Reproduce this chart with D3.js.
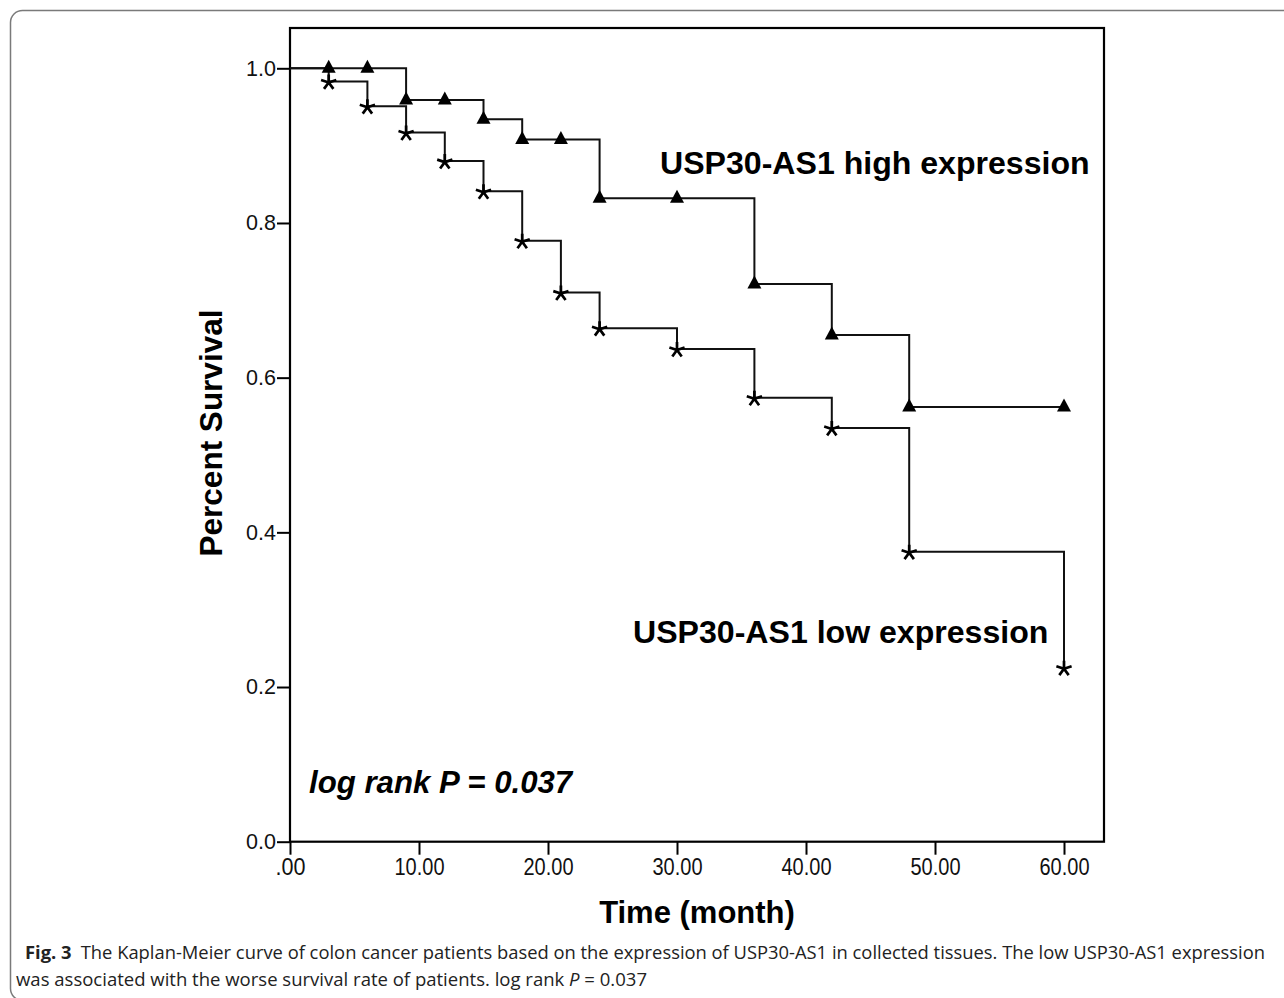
<!DOCTYPE html>
<html>
<head>
<meta charset="utf-8">
<script src="https://cdn.jsdelivr.net/npm/d3@7/dist/d3.min.js"></script>
<style>
  html, body { margin: 0; padding: 0; background: #fff; }
  svg { display: block; }
</style>
</head>
<body>
<svg id="chart" width="1284" height="998"></svg>
<script>
// ---- data ----
const times = [0, 3, 6, 9, 12, 15, 18, 21, 24, 30, 36, 42, 48, 60];
const highSurvival = [1.0, 1.0, 1.0, 0.959, 0.959, 0.934, 0.908, 0.908, 0.832, 0.832, 0.721, 0.655, 0.562, 0.562];
const lowSurvival  = [1.0, 0.983, 0.951, 0.917, 0.880, 0.841, 0.777, 0.710, 0.664, 0.637, 0.574, 0.535, 0.375, 0.225];
const xTickValues = [0, 10, 20, 30, 40, 50, 60];
const xTickLabels = [".00", "10.00", "20.00", "30.00", "40.00", "50.00", "60.00"];
const yTickValues = [0, 0.2, 0.4, 0.6, 0.8, 1.0];
const yTickLabels = ["0.0", "0.2", "0.4", "0.6", "0.8", "1.0"];
const highLabel = "USP30-AS1 high expression";
const lowLabel = "USP30-AS1 low expression";
const pLabel = "log rank P = 0.037";
const xTitle = "Time (month)";
const yTitle = "Percent Survival";

const svg = d3.select("#chart");

// outer rounded border of the figure
svg.append("rect")
  .attr("x", 10.5).attr("y", 10.5)
  .attr("width", 1300).attr("height", 990)
  .attr("rx", 12).attr("ry", 12)
  .attr("fill", "none").attr("stroke", "#7a7a7a").attr("stroke-width", 1.5);

const x = d3.scaleLinear().domain([0, 60]).range([290, 1064]);
const y = d3.scaleLinear().domain([0, 1]).range([841.7, 68.3]);
const frame = { left: 290, right: 1104, top: 28, bottom: 841.7 };

// frame
svg.append("rect")
  .attr("x", frame.left).attr("y", frame.top)
  .attr("width", frame.right - frame.left).attr("height", frame.bottom - frame.top)
  .attr("fill", "none").attr("stroke", "#000").attr("stroke-width", 2.2);

// axes
const yAxis = d3.axisLeft(y)
  .tickValues(yTickValues)
  .tickFormat((d, i) => yTickLabels[i])
  .tickSize(13).tickSizeOuter(0).tickPadding(1);
const gy = svg.append("g").attr("transform", `translate(${frame.left},0)`).call(yAxis);
gy.select(".domain").remove();
gy.selectAll(".tick line").attr("stroke", "#000").attr("stroke-width", 2);
gy.selectAll(".tick text")
  .attr("font-family", "Liberation Sans, Arial, sans-serif")
  .attr("font-size", 21.5).attr("fill", "#111");

const xAxis = d3.axisBottom(x)
  .tickValues(xTickValues)
  .tickFormat((d, i) => xTickLabels[i])
  .tickSize(13).tickSizeOuter(0).tickPadding(4);
const gx = svg.append("g").attr("transform", `translate(0,${frame.bottom})`).call(xAxis);
gx.select(".domain").remove();
gx.selectAll(".tick line").attr("stroke", "#000").attr("stroke-width", 2);
gx.selectAll(".tick text")
  .attr("font-family", "Liberation Sans Narrow, Liberation Sans, Arial, sans-serif")
  .attr("font-size", 23).attr("fill", "#111")
  .attr("textLength", (d, i) => xTickLabels[i].length * 10)
  .attr("lengthAdjust", "spacingAndGlyphs");

// curves
const highData = times.map((t, i) => ({ t, s: highSurvival[i] }));
const lowData = times.map((t, i) => ({ t, s: lowSurvival[i] }));
const line = d3.line().x(d => x(d.t)).y(d => y(d.s)).curve(d3.curveStepAfter);

svg.append("path").datum(highData).attr("d", line)
  .attr("fill", "none").attr("stroke", "#111").attr("stroke-width", 2);
svg.append("path").datum(lowData).attr("d", line)
  .attr("fill", "none").attr("stroke", "#111").attr("stroke-width", 2);

// triangle markers
svg.append("g").selectAll("path").data(highData.filter(d => d.t > 0)).join("path")
  .attr("transform", d => `translate(${x(d.t)},${y(d.s)})`)
  .attr("d", "M0,-8.5 L7,4.5 L-7,4.5 Z")
  .attr("fill", "#000");

// asterisk markers
const r = 8;
const ang = [0, 72, 144, 216, 288].map(a => (a - 90) * Math.PI / 180);
const starPath = ang.map(a => `M0,0 L${(r * Math.cos(a)).toFixed(2)},${(r * Math.sin(a)).toFixed(2)}`).join(" ");
svg.append("g").selectAll("path").data(lowData.filter(d => d.t > 0)).join("path")
  .attr("transform", d => `translate(${x(d.t)},${y(d.s) + 1})`)
  .attr("d", starPath)
  .attr("fill", "none").attr("stroke", "#000").attr("stroke-width", 2.7);

// annotations
const boldFont = "Liberation Sans, Arial, sans-serif";
svg.append("text").attr("x", 660).attr("y", 174)
  .attr("font-family", boldFont).attr("font-weight", "bold").attr("font-size", 32.1)
  .attr("fill", "#000").text(highLabel);
svg.append("text").attr("x", 633).attr("y", 643)
  .attr("font-family", boldFont).attr("font-weight", "bold").attr("font-size", 32.1)
  .attr("fill", "#000").text(lowLabel);
svg.append("text").attr("x", 309).attr("y", 793)
  .attr("font-family", boldFont).attr("font-weight", "bold").attr("font-style", "italic")
  .attr("font-size", 31.2).attr("fill", "#000").text(pLabel);

// axis titles
svg.append("text").attr("x", 697).attr("y", 923).attr("text-anchor", "middle")
  .attr("font-family", boldFont).attr("font-weight", "bold").attr("font-size", 31)
  .attr("fill", "#000").text(xTitle);
svg.append("text")
  .attr("transform", "translate(222,433) rotate(-90)")
  .attr("text-anchor", "middle")
  .attr("font-family", boldFont).attr("font-weight", "bold").attr("font-size", 31.5)
  .attr("fill", "#000").text(yTitle);

// caption
const capFont = "Open Sans, Noto Sans, sans-serif";
const cap1 = svg.append("text").attr("x", 25).attr("y", 959)
  .attr("font-family", capFont).attr("font-size", 17.5).attr("fill", "#222")
  .attr("textLength", 1240).attr("lengthAdjust", "spacingAndGlyphs");
cap1.append("tspan").attr("font-weight", "bold").text("Fig. 3");
cap1.append("tspan").text("\u2002The Kaplan-Meier curve of colon cancer patients based on the expression of USP30-AS1 in collected tissues. The low USP30-AS1 expression");
const cap2 = svg.append("text").attr("x", 16).attr("y", 986)
  .attr("font-family", capFont).attr("font-size", 17.5).attr("fill", "#222")
  .attr("textLength", 631).attr("lengthAdjust", "spacingAndGlyphs");
cap2.append("tspan").text("was associated with the worse survival rate of patients. log rank ");
cap2.append("tspan").attr("font-style", "italic").text("P");
cap2.append("tspan").text(" = 0.037");
</script>
</body>
</html>
